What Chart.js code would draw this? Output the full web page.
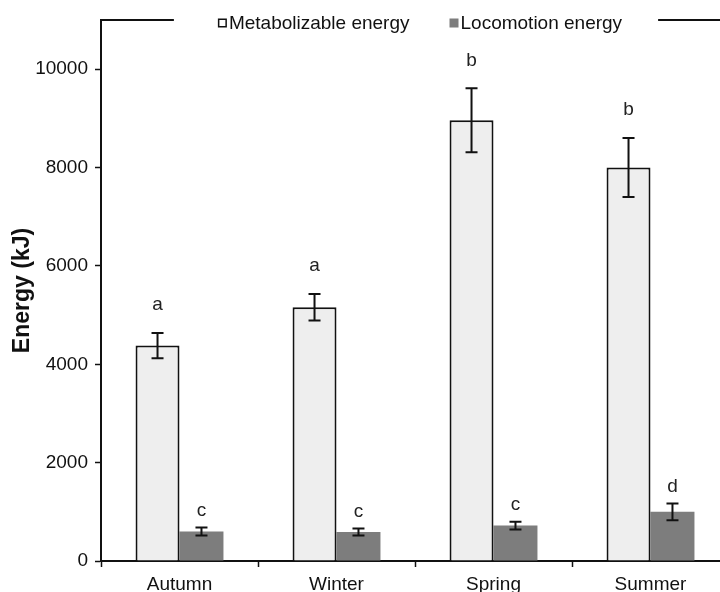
<!DOCTYPE html>
<html>
<head>
<meta charset="utf-8">
<script src="https://cdn.jsdelivr.net/npm/chart.js@4/dist/chart.umd.min.js"></script>
<style>
  html, body { margin: 0; padding: 0; background: #fff; overflow: hidden; }
  #wrap { position: relative; width: 735px; height: 592px; }
</style>
</head>
<body>
<div id="wrap"><canvas id="myChart"></canvas></div>
<script>
// Data
const seasons = ['Autumn', 'Winter', 'Spring', 'Summer'];
const metabolizable = [4380, 5160, 8960, 8000];
const metabolizableErr = [255, 270, 650, 600];
const locomotion = [600, 590, 720, 1000];
const locomotionErr = [80, 70, 80, 170];
const metabolizableLetters = ['a', 'a', 'b', 'b'];
const locomotionLetters = ['c', 'c', 'c', 'd'];
const yTicks = [0, 2000, 4000, 6000, 8000, 10000];

const FONT = 'Liberation Sans, Arial, sans-serif';
const errors = [metabolizableErr, locomotionErr];
const letters = [metabolizableLetters, locomotionLetters];
const letterGap = [28, 17];

// error bars + significance letters
const errorBarPlugin = {
    id: 'errorBars',
    afterDatasetsDraw(chart) {
        const ctx = chart.ctx;
        const y = chart.scales.y;
        ctx.save();
        ctx.strokeStyle = '#111';
        ctx.lineWidth = 2;
        ctx.fillStyle = '#222';
        ctx.font = '19px ' + FONT;
        ctx.textAlign = 'center';
        ctx.textBaseline = 'middle';
        chart.data.datasets.forEach((ds, i) => {
            const meta = chart.getDatasetMeta(i);
            meta.data.forEach((bar, j) => {
                const v = ds.data[j];
                const e = errors[i][j];
                const top = y.getPixelForValue(v + e);
                const bottom = y.getPixelForValue(v - e);
                ctx.beginPath();
                ctx.moveTo(bar.x, top);
                ctx.lineTo(bar.x, bottom);
                ctx.moveTo(bar.x - 6, top);
                ctx.lineTo(bar.x + 6, top);
                ctx.moveTo(bar.x - 6, bottom);
                ctx.lineTo(bar.x + 6, bottom);
                ctx.stroke();
                ctx.fillText(letters[i][j], bar.x, top - letterGap[i]);
            });
        });
        ctx.restore();
    }
};

// legend sitting in the gap of the top frame line
const frameLegendPlugin = {
    id: 'frameLegend',
    afterDraw(chart) {
        const ctx = chart.ctx;
        const area = chart.chartArea;
        const ly = area.top + 3;
        ctx.save();
        ctx.font = '19px ' + FONT;
        const box = 9;
        const items = chart.data.datasets.map(ds => ({
            label: ds.label,
            fill: ds.backgroundColor,
            w: box + 2 + ctx.measureText(ds.label).width
        }));
        const spacing = 40;
        const total = items.reduce((a, it) => a + it.w, 0) + spacing * (items.length - 1);
        let x = (area.left + area.right) / 2 - total / 2 + 5;
        const start = x;

        ctx.textBaseline = 'middle';
        ctx.textAlign = 'left';
        items.forEach((it, i) => {
            ctx.fillStyle = i === 0 ? '#fff' : it.fill;
            ctx.fillRect(x, ly - box / 2, box, box);
            if (i === 0) {
                ctx.strokeStyle = '#111';
                ctx.lineWidth = 1.5;
                ctx.strokeRect(x + 0.75, ly - box / 2 + 0.75, box - 1.5, box - 1.5);
            }
            ctx.fillStyle = '#111';
            ctx.fillText(it.label, x + box + 2, ly + 1);
            x += it.w + spacing;
        });
        const end = x - spacing;

        ctx.strokeStyle = '#111';
        ctx.lineWidth = 2;
        ctx.beginPath();
        ctx.moveTo(area.left - 1, area.top);
        ctx.lineTo(start - 44, area.top);
        ctx.moveTo(end + 36, area.top);
        ctx.lineTo(area.right, area.top);
        ctx.stroke();
        ctx.restore();
    }
};

const ctx = document.getElementById('myChart').getContext('2d');
const myChart = new Chart(ctx, {
    type: 'bar',
    data: {
        labels: seasons,
        datasets: [{
            label: 'Metabolizable energy',
            data: metabolizable,
            backgroundColor: '#eeeeee',
            borderColor: '#111',
            borderWidth: 2
        }, {
            label: 'Locomotion energy',
            data: locomotion,
            backgroundColor: '#7d7d7d',
            borderWidth: 0
        }]
    },
    options: {
        responsive: true,
        maintainAspectRatio: false,
        animation: false,
        devicePixelRatio: 1,
        layout: { padding: { top: 20, right: 6, bottom: 0, left: 0 } },
        datasets: {
            bar: { categoryPercentage: 0.56, barPercentage: 1.0 }
        },
        plugins: {
            legend: { display: false },
            tooltip: { enabled: false }
        },
        scales: {
            x: {
                grid: {
                    display: true,
                    drawOnChartArea: false,
                    tickLength: 6,
                    tickWidth: 1.5,
                    color: '#111'
                },
                border: { color: '#111', width: 2 },
                ticks: {
                    color: '#111',
                    padding: 6,
                    font: { family: FONT, size: 19 }
                },
                afterFit(scale) { scale.height = 31; }
            },
            y: {
                min: 0,
                max: 11000,
                afterBuildTicks(scale) {
                    scale.ticks = yTicks.map(v => ({ value: v }));
                },
                afterFit(scale) { scale.width = 101; },
                grid: {
                    display: true,
                    drawOnChartArea: false,
                    tickLength: 6,
                    tickWidth: 1.5,
                    color: '#111'
                },
                border: { color: '#111', width: 2 },
                ticks: {
                    color: '#111',
                    padding: 7,
                    font: { family: FONT, size: 19 },
                    callback: v => String(v)
                },
                title: {
                    display: true,
                    text: 'Energy (kJ)',
                    color: '#111',
                    padding: { top: 9, bottom: 0 },
                    font: { family: FONT, size: 23, weight: 'bold' }
                }
            }
        }
    },
    plugins: [errorBarPlugin, frameLegendPlugin]
});
</script>
</body>
</html>
